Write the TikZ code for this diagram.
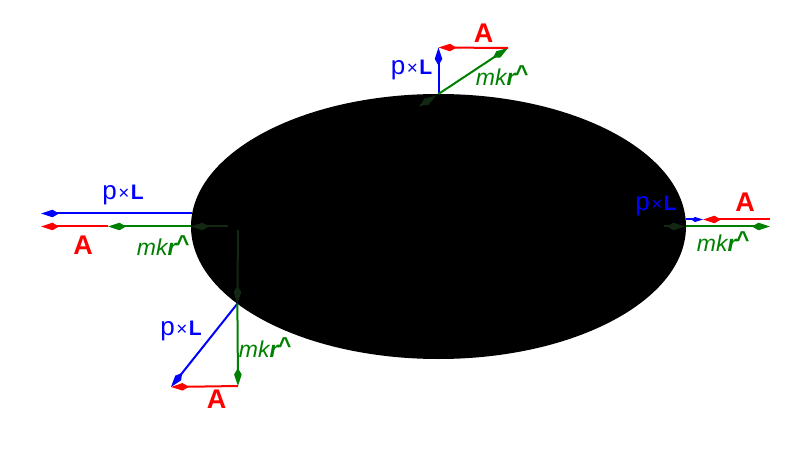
\documentclass[tikz,border=0pt]{standalone}
\usepackage{fontspec}
\setmainfont{Liberation Sans}
\usepackage{tikz}
\usetikzlibrary{calc, arrows.meta, shapes.geometric}
\definecolor{vecblue}{RGB}{0, 0, 255}
\definecolor{vecred}{RGB}{255, 0, 0}
\definecolor{vecgreen}{RGB}{0, 128, 0}
\definecolor{hidgreen}{RGB}{18, 40, 18}
\tikzset{
    orbitnode/.style = {ellipse, draw=none, fill=black, inner sep = 0em, outer sep = 0em,
      minimum width=495bp, minimum height=265bp},
    textnode/.style = {draw=none, fill=none, rectangle, inner sep = 0em, minimum size=0cm},
    plnode/.style = {textnode, text=vecblue, font=\fontsize{26bp}{26bp}\selectfont},
    anode/.style = {textnode, text=vecred, font=\fontsize{27bp}{27bp}\selectfont\bfseries},
    mknode/.style = {textnode, text=vecgreen, font=\fontsize{23bp}{23bp}\selectfont\itshape},
    >={Kite[length=18bp, width=7.5bp, inset=6.5bp]},
    plvec/.style = {vecblue, line width=2bp, ->},
    avec/.style = {vecred, line width=2bp, ->},
    mkvec/.style = {vecgreen, line width=2bp, ->},
    hidvec/.style = {hidgreen, line width=2bp, ->}
}
\newcommand{\pxl}{p\kern1.5bp{\fontsize{19bp}{19bp}\selectfont ×}\kern1.5bp{\fontsize{21bp}{21bp}\selectfont\bfseries L}}
\newcommand{\mkr}{mk{\bfseries r\kern-1bp\raisebox{4bp}{\char"5E}}}

\begin{document}
\begin{tikzpicture}[x=1bp, y=-1bp]
    \useasboundingbox (0,0) rectangle (800,450);
    \node [name = orbit, orbitnode] at (438.5,226.5) {};
    \coordinate (T) at (orbit.north);
    \coordinate (W) at (orbit.west);
    \coordinate (E) at (orbit.east);
    \coordinate (S) at (orbit.201);
    \coordinate (F) at (230,226.5);

    % r-hat arrows behind the orbit
    \coordinate (Fh) at (228,226.5);
    \coordinate (Fv) at (238,230);
    \coordinate (Tin) at ($(T)!22bp!(F)$);
    \coordinate (Tend) at ($(T)!3bp!(F)$);
    \coordinate (Ein) at ($(E)+(-22,0)$);
    \coordinate (Eend) at ($(E)+(-1,0)$);
    \draw (Fh) edge[hidvec] (W);
    \draw (Fv) edge[hidvec] (S);
    \draw (Tin) edge[hidvec] (Tend);
    \draw (Ein) edge[hidvec] (Eend);

    % top
    \coordinate (Tpl) at (438.5,47.5);
    \coordinate (Tmk) at (508,48);
    \draw (T) edge[plvec] (Tpl);
    \draw (T) edge[mkvec] (Tmk);
    \draw (Tmk) edge[avec] (Tpl);
    \node [name = TplLabel, plnode] at (411.5,70) {\pxl};
    \node [name = TaLabel, anode] at (483.5,33) {A};
    \node [name = TmkLabel, mknode] at (502,76) {\mkr};

    % left
    \coordinate (Wpl0) at (192,213.5);
    \coordinate (Wpl) at (41,213.5);
    \coordinate (Wmk) at (108,226.5);
    \coordinate (Wa) at (41,226.5);
    \draw (Wpl0) edge[plvec] (Wpl);
    \draw (W) edge[mkvec] (Wmk);
    \draw (Wmk) edge[avec] (Wa);
    \node [name = WplLabel, plnode] at (123,195) {\pxl};
    \node [name = WaLabel, anode] at (83,245) {A};
    \node [name = WmkLabel, mknode] at (163,246) {\mkr};

    % bottom left
    \coordinate (Spl) at (171,387);
    \coordinate (Smk) at (238,386);
    \draw (S) edge[plvec] (Spl);
    \draw (S) edge[mkvec] (Smk);
    \draw (Smk) edge[avec] (Spl);
    \node [name = SplLabel, plnode] at (181,331) {\pxl};
    \node [name = SaLabel, anode] at (216.5,399) {A};
    \node [name = SmkLabel, mknode] at (265,348) {\mkr};

    % right
    \coordinate (Epl0) at (686,219.5);
    \coordinate (Epl) at (703,219.5);
    \coordinate (Emk) at (770,226.5);
    \coordinate (Ea) at (770,219.5);
    \draw (Epl0) edge[plvec, -{Kite[length=12bp, width=5bp, inset=4bp]}] (Epl);
    \draw (E) edge[mkvec] (Emk);
    \draw (Ea) edge[avec] (Epl);
    \node [name = EplLabel, plnode] at (656,206) {\pxl};
    \node [name = EaLabel, anode] at (745,202) {A};
    \node [name = EmkLabel, mknode] at (723,242) {\mkr};
\end{tikzpicture}
\end{document}
